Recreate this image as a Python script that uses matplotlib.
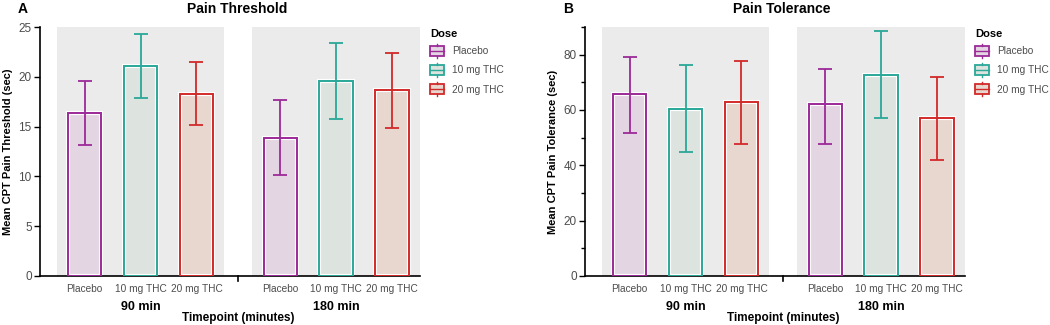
import matplotlib
matplotlib.use("Agg")
import matplotlib.pyplot as plt
from matplotlib.patches import Patch, Rectangle
from matplotlib.lines import Line2D
from matplotlib.legend_handler import HandlerBase
from matplotlib.ticker import MultipleLocator

plt.rcParams['font.family'] = ['Liberation Sans', 'DejaVu Sans']

doses = ["Placebo", "10 mg THC", "20 mg THC"]
timepoints = ["90 min", "180 min"]

# Pain threshold (sec): mean, lower/upper error bar ends, per timepoint
thr_mean = [[16.4, 21.1, 18.3], [13.9, 19.6, 18.7]]
thr_low = [[13.2, 17.9, 15.2], [10.1, 15.8, 14.9]]
thr_high = [[19.6, 24.3, 21.5], [17.7, 23.4, 22.4]]

# Pain tolerance (sec)
tol_mean = [[65.8, 60.5, 62.8], [62.0, 72.8, 57.1]]
tol_low = [[51.6, 45.0, 47.8], [47.6, 57.0, 42.1]]
tol_high = [[79.1, 76.4, 77.8], [75.0, 88.4, 72.1]]

edge_colors = ["#9c2a98", "#2aa898", "#d22a2a"]
fill_colors = ["#e3d5e2", "#dde3df", "#e7d7cf"]
panel_bg = "#ebebeb"
text_grey = "#4d4d4d"

fig = plt.figure(figsize=(10.5, 3.25), dpi=100)
W, H = 1050, 325


class BarKeyHandler(HandlerBase):
    # small bar with a line through it and whisker stubs, like the legend key
    def create_artists(self, legend, orig_handle, xdescent, ydescent,
                       width, height, fontsize, trans):
        ec = orig_handle.get_edgecolor()
        fc = orig_handle.get_facecolor()
        pad = height * 0.15
        rect = Rectangle((-xdescent, -ydescent + pad), width, height - 2 * pad,
                         facecolor=fc, edgecolor=ec, linewidth=1.3, transform=trans)
        mid = -ydescent + height / 2
        cx = -xdescent + width / 2
        hline = Line2D([-xdescent, -xdescent + width], [mid, mid], color=ec,
                       lw=1.0, transform=trans)
        top = Line2D([cx, cx], [-ydescent + height - pad, -ydescent + height],
                     color=ec, lw=1.0, transform=trans)
        bot = Line2D([cx, cx], [-ydescent, -ydescent + pad], color=ec, lw=1.0,
                     transform=trans)
        return [rect, hline, top, bot]


def draw_panel(left_px, letter, title, ylabel, means, lows, highs, ymax, major, minor):
    ax = fig.add_axes([left_px / W, 49 / H, 380 / W, 249 / H])
    offsets = [0.0, 3.5]
    for g, off in enumerate(offsets):
        ax.add_patch(Rectangle((off - 0.5, 0.0), 3.0, ymax, facecolor=panel_bg,
                               edgecolor="none", zorder=0))
        for i in range(3):
            x = off + i
            m = means[g][i]
            ax.bar(x, m, width=0.6, color=fill_colors[i], edgecolor="white",
                   linewidth=3.0, zorder=2)
            ax.bar(x, m, width=0.6, color="none", edgecolor=edge_colors[i],
                   linewidth=1.4, zorder=3)
            ax.errorbar(x, m, yerr=[[m - lows[g][i]], [highs[g][i] - m]],
                        color=edge_colors[i], capsize=5, elinewidth=1.3,
                        capthick=1.3, zorder=4)
    ax.set_xlim(-0.8, 6.0)
    ax.set_ylim(0, ymax)
    ax.yaxis.set_major_locator(MultipleLocator(major))
    if minor:
        ax.yaxis.set_minor_locator(MultipleLocator(minor))
    ax.tick_params(axis="y", labelsize=8.5, labelcolor=text_grey, length=4,
                   width=1, direction="out", pad=2)
    ax.tick_params(axis="y", which="minor", length=3, width=1)
    xs = [off + i for off in offsets for i in range(3)]
    ax.set_xticks(xs)
    ax.set_xticklabels(doses * 2)
    ax.tick_params(axis="x", length=0, labelsize=7.3, labelcolor=text_grey, pad=6)
    ax.axvline(2.75, ymin=-0.02, ymax=0, color="black", lw=1.2, clip_on=False)
    for sp in ["top", "right"]:
        ax.spines[sp].set_visible(False)
    ax.spines["left"].set_linewidth(1.2)
    ax.spines["bottom"].set_linewidth(1.2)
    for off, tp in zip(offsets, timepoints):
        ax.text(off + 1, -0.125, tp, transform=ax.get_xaxis_transform(),
                ha="center", va="center", fontsize=9, fontweight="bold")
    ax.text(2.75, -0.17, "Timepoint (minutes)", transform=ax.get_xaxis_transform(),
            ha="center", va="center", fontsize=8.5, fontweight="bold")
    ax.set_ylabel(ylabel, fontsize=8, fontweight="bold", labelpad=4)
    fig.text((left_px + 197) / W, 1 - 9 / H, title, ha="center", va="center",
             fontsize=10, fontweight="bold")
    fig.text((left_px - 17) / W, 1 - 9 / H, letter, ha="center", va="center",
             fontsize=10, fontweight="bold")
    handles = [Patch(facecolor=fill_colors[i], edgecolor=edge_colors[i],
                     label=doses[i]) for i in range(3)]
    leg = ax.legend(handles=handles, title="Dose", loc="upper left",
                    bbox_to_anchor=(1.0 + 10 / 380, 1.0 - 2 / 249), frameon=False,
                    fontsize=7.3, title_fontsize=8, handlelength=1.35,
                    handleheight=1.75, handletextpad=0.8, labelspacing=0.5,
                    borderaxespad=0.0, borderpad=0.0,
                    handler_map={Patch: BarKeyHandler()})
    leg.get_title().set_fontweight("bold")
    leg._legend_box.align = "left"
    for t in leg.get_texts():
        t.set_color(text_grey)
    return ax


draw_panel(40, "A", "Pain Threshold", "Mean CPT Pain Threshold (sec)",
           thr_mean, thr_low, thr_high, 25, 5, None)
draw_panel(585, "B", "Pain Tolerance", "Mean CPT Pain Tolerance (sec)",
           tol_mean, tol_low, tol_high, 90, 20, 10)

fig.savefig("out.png", dpi=100)
